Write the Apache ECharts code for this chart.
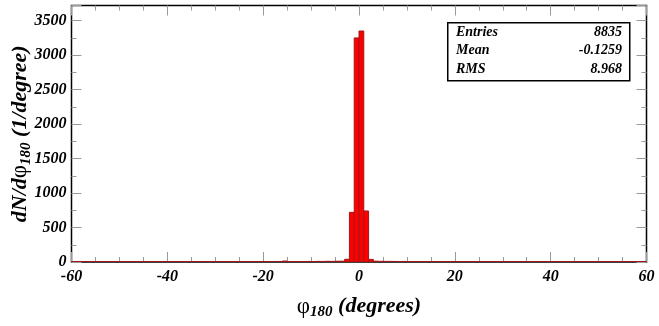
<!DOCTYPE html>
<html>
<head>
<meta charset="utf-8">
<script src="https://cdn.jsdelivr.net/npm/echarts@6/dist/echarts.min.js"></script>
<style>
  html, body { margin: 0; padding: 0; background: #fff; }
  #chart { width: 659px; height: 326px; }
</style>
</head>
<body>
<div id="chart"></div>
<script>
// histogram: 1-degree bins from -60 to 60
const binStart = -60;
const binWidth = 1;
const counts = [
  4, 5, 3, 6, 4, 5, 7, 4, 3, 5,      // -60 .. -51
  6, 4, 5, 3, 4, 6, 5, 4, 7, 5,      // -50 .. -41
  4, 6, 3, 5, 4, 5, 6, 4, 5, 3,      // -40 .. -31
  5, 4, 6, 5, 7, 4, 5, 6, 4, 5,      // -30 .. -21
  6, 5, 4, 7, 14, 6, 5, 7, 6, 8,     // -20 .. -11
  7, 9, 8, 10, 9, 11, 12, 40, 720, 3250, // -10 .. -1
  3350, 740, 38, 12, 10, 9, 9, 8, 7, 8,  // 0 .. 9
  6, 7, 5, 6, 5, 4, 6, 5, 7, 4,      // 10 .. 19
  5, 6, 4, 5, 3, 6, 5, 4, 5, 6,      // 20 .. 29
  4, 5, 6, 3, 5, 4, 6, 5, 4, 3,      // 30 .. 39
  5, 4, 6, 5, 4, 3, 5, 6, 4, 5,      // 40 .. 49
  3, 5, 4, 6, 5, 4, 7, 4, 5, 4       // 50 .. 59
];
const xTicks = [-60, -40, -20, 0, 20, 40, 60];
const yTicks = [0, 500, 1000, 1500, 2000, 2500, 3000, 3500];
const statNames = ['Entries', 'Mean', 'RMS'];
const statValues = ['8835', '-0.1259', '8.968'];

const serif = '"Liberation Serif", "DejaVu Serif", serif';
const bins = counts.map((c, i) => [binStart + i * binWidth, binStart + (i + 1) * binWidth, c]);

const chart = echarts.init(document.getElementById('chart'), null, { renderer: 'canvas' });

const tickStyle = { color: '#999', width: 1 };
const xBase = {
  type: 'value', min: -60, max: 60, interval: 20,
  axisLine: { show: false, onZero: false },
  axisTick: { show: true, inside: true, length: 10, lineStyle: tickStyle },
  minorTick: { show: true, splitNumber: 4, length: 5, lineStyle: tickStyle },
  splitLine: { show: false }
};
const yBase = {
  type: 'value', min: 0, max: 3720, interval: 500,
  axisLine: { show: false, onZero: false },
  axisTick: { show: true, inside: true, length: 10, lineStyle: tickStyle },
  minorTick: { show: true, splitNumber: 2, length: 5, lineStyle: tickStyle },
  splitLine: { show: false }
};

const labelFont = { color: '#000', fontFamily: serif, fontStyle: 'italic', fontWeight: 'bold', fontSize: 16 };
const titleRich = {
  phi: { fontFamily: serif, fontSize: 23, color: '#000' },
  sub: { fontFamily: serif, fontStyle: 'italic', fontWeight: 'bold', fontSize: 15, color: '#000', padding: [12, 0, 0, 0] },
  t: { fontFamily: serif, fontStyle: 'italic', fontWeight: 'bold', fontSize: 22, color: '#000' }
};

const statRows = [];
statNames.forEach((n, i) => {
  const y = 33 + i * 18.5;
  statRows.push({ type: 'text', left: 456, top: y - 8,
    style: { text: n, font: 'italic bold 14px ' + serif, fill: '#000' } });
  statRows.push({ type: 'text', right: 659 - 622, top: y - 8,
    style: { text: statValues[i], font: 'italic bold 14px ' + serif, fill: '#000', align: 'right' } });
});

chart.setOption({
  animation: false,
  grid: { left: 71.5, right: 12.5, top: 5.5, bottom: 64, show: true,
          outerBoundsMode: 'none', containLabel: false,
          borderColor: '#000', borderWidth: 1.5, backgroundColor: '#fff' },
  xAxis: [
    Object.assign({}, xBase, {
      position: 'bottom',
      axisLabel: Object.assign({ show: true, margin: 7,
        formatter: v => xTicks.includes(v) ? String(v) : '' }, labelFont),
      name: '{phi|φ}{sub|180}{t| (degrees)}',
      nameLocation: 'middle', nameGap: 31, nameMoveOverlap: false,
      nameTextStyle: { color: '#000', rich: titleRich }
    }),
    Object.assign({}, xBase, { position: 'top', axisLabel: { show: false } })
  ],
  yAxis: [
    Object.assign({}, yBase, {
      position: 'left',
      axisLabel: Object.assign({ show: true, margin: 5,
        formatter: v => yTicks.includes(v) ? String(v) : '' }, labelFont),
      name: '{t|dN/d}{phi|φ}{sub|180}{t| (1/degree)}',
      nameLocation: 'middle', nameGap: 38, nameMoveOverlap: false,
      nameTextStyle: { color: '#000', rich: titleRich }
    }),
    Object.assign({}, yBase, { position: 'right', axisLabel: { show: false } })
  ],
  series: [{
    type: 'custom',
    xAxisIndex: 0, yAxisIndex: 0,
    data: bins,
    clip: true,
    renderItem: (params, api) => {
      const p0 = api.coord([api.value(0), 0]);
      const p1 = api.coord([api.value(1), api.value(2)]);
      return {
        type: 'rect',
        shape: { x: p0[0], y: p1[1], width: p1[0] - p0[0], height: p0[1] - p1[1] },
        style: { fill: '#ff0000', stroke: '#a01818', lineWidth: 1 }
      };
    }
  }],
  graphic: [
    { type: 'rect', left: 447, top: 22,
      shape: { width: 182, height: 58 },
      style: { fill: '#fff', stroke: '#000', lineWidth: 1.5 } }
  ].concat(statRows)
});
</script>
</body>
</html>
